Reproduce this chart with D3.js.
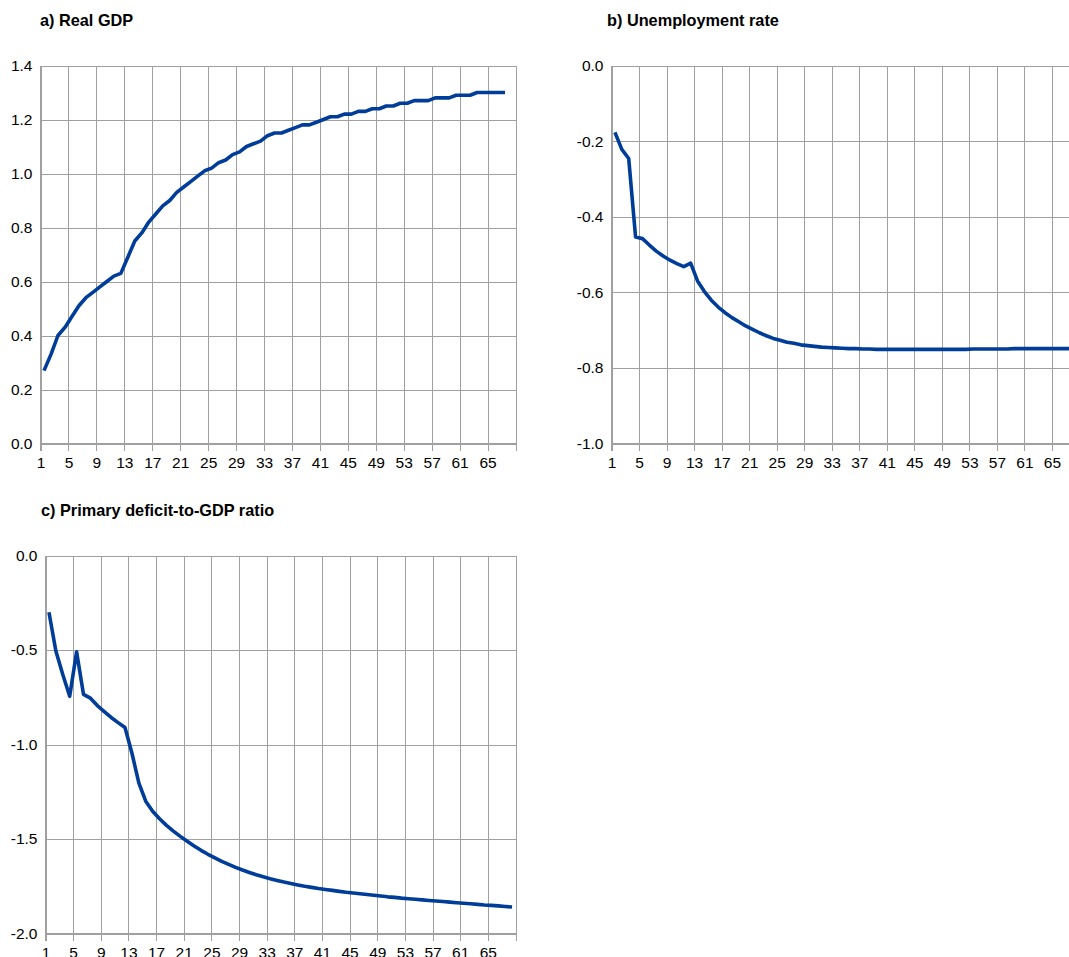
<!DOCTYPE html>
<html><head><meta charset="utf-8">
<script src="https://cdn.jsdelivr.net/npm/d3@7"></script>
<style>
body{margin:0;background:#fff}
svg{display:block}
text{font-family:"Liberation Sans",Arial,Helvetica,sans-serif}
</style></head><body>
<svg id="chart" width="1069" height="957"></svg>
<script>
const categories = [1,2,3,4,5,6,7,8,9,10,11,12,13,14,15,16,17,18,19,20,21,22,23,24,25,26,27,28,29,30,31,32,33,34,35,36,37,38,39,40,41,42,43,44,45,46,47,48,49,50,51,52,53,54,55,56,57,58,59,60,61,62,63,64,65,66,67,68];
const xTickLabels = [1,5,9,13,17,21,25,29,33,37,41,45,49,53,57,61,65];

const realGDP = [0.27,0.33,0.40,0.43,0.47,0.51,0.54,0.56,0.58,0.60,0.62,0.63,0.69,0.75,0.78,0.82,0.85,0.88,0.90,0.93,0.95,0.97,0.99,1.01,1.02,1.04,1.05,1.07,1.08,1.10,1.11,1.12,1.14,1.15,1.15,1.16,1.17,1.18,1.18,1.19,1.20,1.21,1.21,1.22,1.22,1.23,1.23,1.24,1.24,1.25,1.25,1.26,1.26,1.27,1.27,1.27,1.28,1.28,1.28,1.29,1.29,1.29,1.30,1.30,1.30,1.30,1.30];

const unemployment = [-0.177,-0.222,-0.246,-0.454,-0.458,-0.475,-0.491,-0.504,-0.515,-0.524,-0.532,-0.523,-0.570,-0.598,-0.621,-0.639,-0.654,-0.667,-0.678,-0.689,-0.698,-0.707,-0.715,-0.722,-0.727,-0.732,-0.735,-0.739,-0.741,-0.743,-0.745,-0.746,-0.747,-0.748,-0.749,-0.749,-0.750,-0.750,-0.751,-0.751,-0.751,-0.751,-0.751,-0.751,-0.751,-0.751,-0.751,-0.751,-0.751,-0.751,-0.751,-0.751,-0.750,-0.750,-0.750,-0.750,-0.750,-0.750,-0.749,-0.749,-0.749,-0.749,-0.749,-0.749,-0.749,-0.749,-0.749,-0.749];

const primaryDeficit = [-0.30,-0.505,-0.63,-0.745,-0.51,-0.735,-0.755,-0.794,-0.826,-0.857,-0.884,-0.910,-1.045,-1.203,-1.300,-1.353,-1.393,-1.428,-1.458,-1.486,-1.512,-1.537,-1.560,-1.581,-1.600,-1.618,-1.634,-1.650,-1.664,-1.677,-1.689,-1.700,-1.710,-1.719,-1.728,-1.736,-1.743,-1.750,-1.756,-1.762,-1.767,-1.772,-1.777,-1.782,-1.786,-1.790,-1.794,-1.798,-1.802,-1.806,-1.809,-1.813,-1.816,-1.819,-1.822,-1.825,-1.828,-1.831,-1.834,-1.837,-1.840,-1.843,-1.846,-1.849,-1.851,-1.854,-1.857,-1.860];

const yTicksA = [0.0,0.2,0.4,0.6,0.8,1.0,1.2,1.4];
const yTicksB = [-1.0,-0.8,-0.6,-0.4,-0.2,0.0];
const yTicksC = [-2.0,-1.5,-1.0,-0.5,0.0];
const titles = ["a) Real GDP","b) Unemployment rate","c) Primary deficit-to-GDP ratio"];

const panels = [
  {title:titles[0], data:realGDP, yTicks:yTicksA, x0:40.5, x1:515.5, y0:65.5, y1:443.5, tx:40, ty:26},
  {title:titles[1], data:unemployment, yTicks:yTicksB, x0:611.5, x1:1079.5, y0:65.5, y1:443.5, tx:607, ty:26},
  {title:titles[2], data:primaryDeficit, yTicks:yTicksC, x0:45.5, x1:515.5, y0:555.5, y1:933.5, tx:41, ty:516}
];

const svg = d3.select("#chart");
const gridColor = "#a0a0a0";
const lineColor = "#003d99";

panels.forEach(p => {
  const g = svg.append("g");
  const x = d3.scaleLinear().domain([0, categories.length]).range([p.x0, p.x1]);
  const y = d3.scaleLinear().domain(d3.extent(p.yTicks)).range([p.y1, p.y0]);

  // horizontal gridlines + y labels
  const ya = g.append("g").attr("transform", `translate(${p.x0},0)`)
    .call(d3.axisLeft(y).tickValues(p.yTicks).tickSize(-(p.x1 - p.x0)).tickPadding(8)
      .tickFormat(d => d.toFixed(1)));
  ya.select(".domain").remove();
  ya.selectAll(".tick line").attr("stroke", gridColor).attr("shape-rendering","crispEdges");
  ya.selectAll(".tick text").attr("font-size", 15.5).attr("fill", "#000")
    .style("font-family", '"Liberation Sans",Arial,sans-serif');

  // vertical gridlines + x labels
  const tickIdx = xTickLabels.map(l => categories.indexOf(l)).concat([categories.length]);
  const xa = g.append("g").attr("transform", `translate(0,${p.y1 + 7})`)
    .call(d3.axisBottom(x).tickValues(tickIdx).tickSize(-(p.y1 - p.y0 + 7)).tickPadding(6)
      .tickFormat(i => i < categories.length ? String(categories[i]) : ""));
  xa.select(".domain").remove();
  xa.selectAll(".tick line").attr("stroke", gridColor).attr("shape-rendering","crispEdges");
  xa.selectAll(".tick text").attr("font-size", 15.5).attr("fill", "#000")
    .style("font-family", '"Liberation Sans",Arial,sans-serif');

  // axis box lines (left and bottom)
  g.append("line").attr("x1", p.x0).attr("x2", p.x0).attr("y1", p.y0).attr("y2", p.y1 + 7)
    .attr("stroke", gridColor).attr("shape-rendering","crispEdges");
  g.append("line").attr("x1", p.x0).attr("x2", p.x1).attr("y1", p.y1).attr("y2", p.y1)
    .attr("stroke", gridColor).attr("shape-rendering","crispEdges");

  // data line
  const line = d3.line().x((d, i) => x(i + 0.5)).y(d => y(d));
  g.append("path").datum(p.data).attr("d", line)
    .attr("fill", "none").attr("stroke", lineColor).attr("stroke-width", 3.6)
    .attr("stroke-linejoin", "round").attr("stroke-linecap", "butt");

  // title
  g.append("text").attr("x", p.tx).attr("y", p.ty).text(p.title)
    .attr("font-size", 16.3).attr("font-weight", "bold").attr("fill", "#000");
});
</script>
</body></html>
